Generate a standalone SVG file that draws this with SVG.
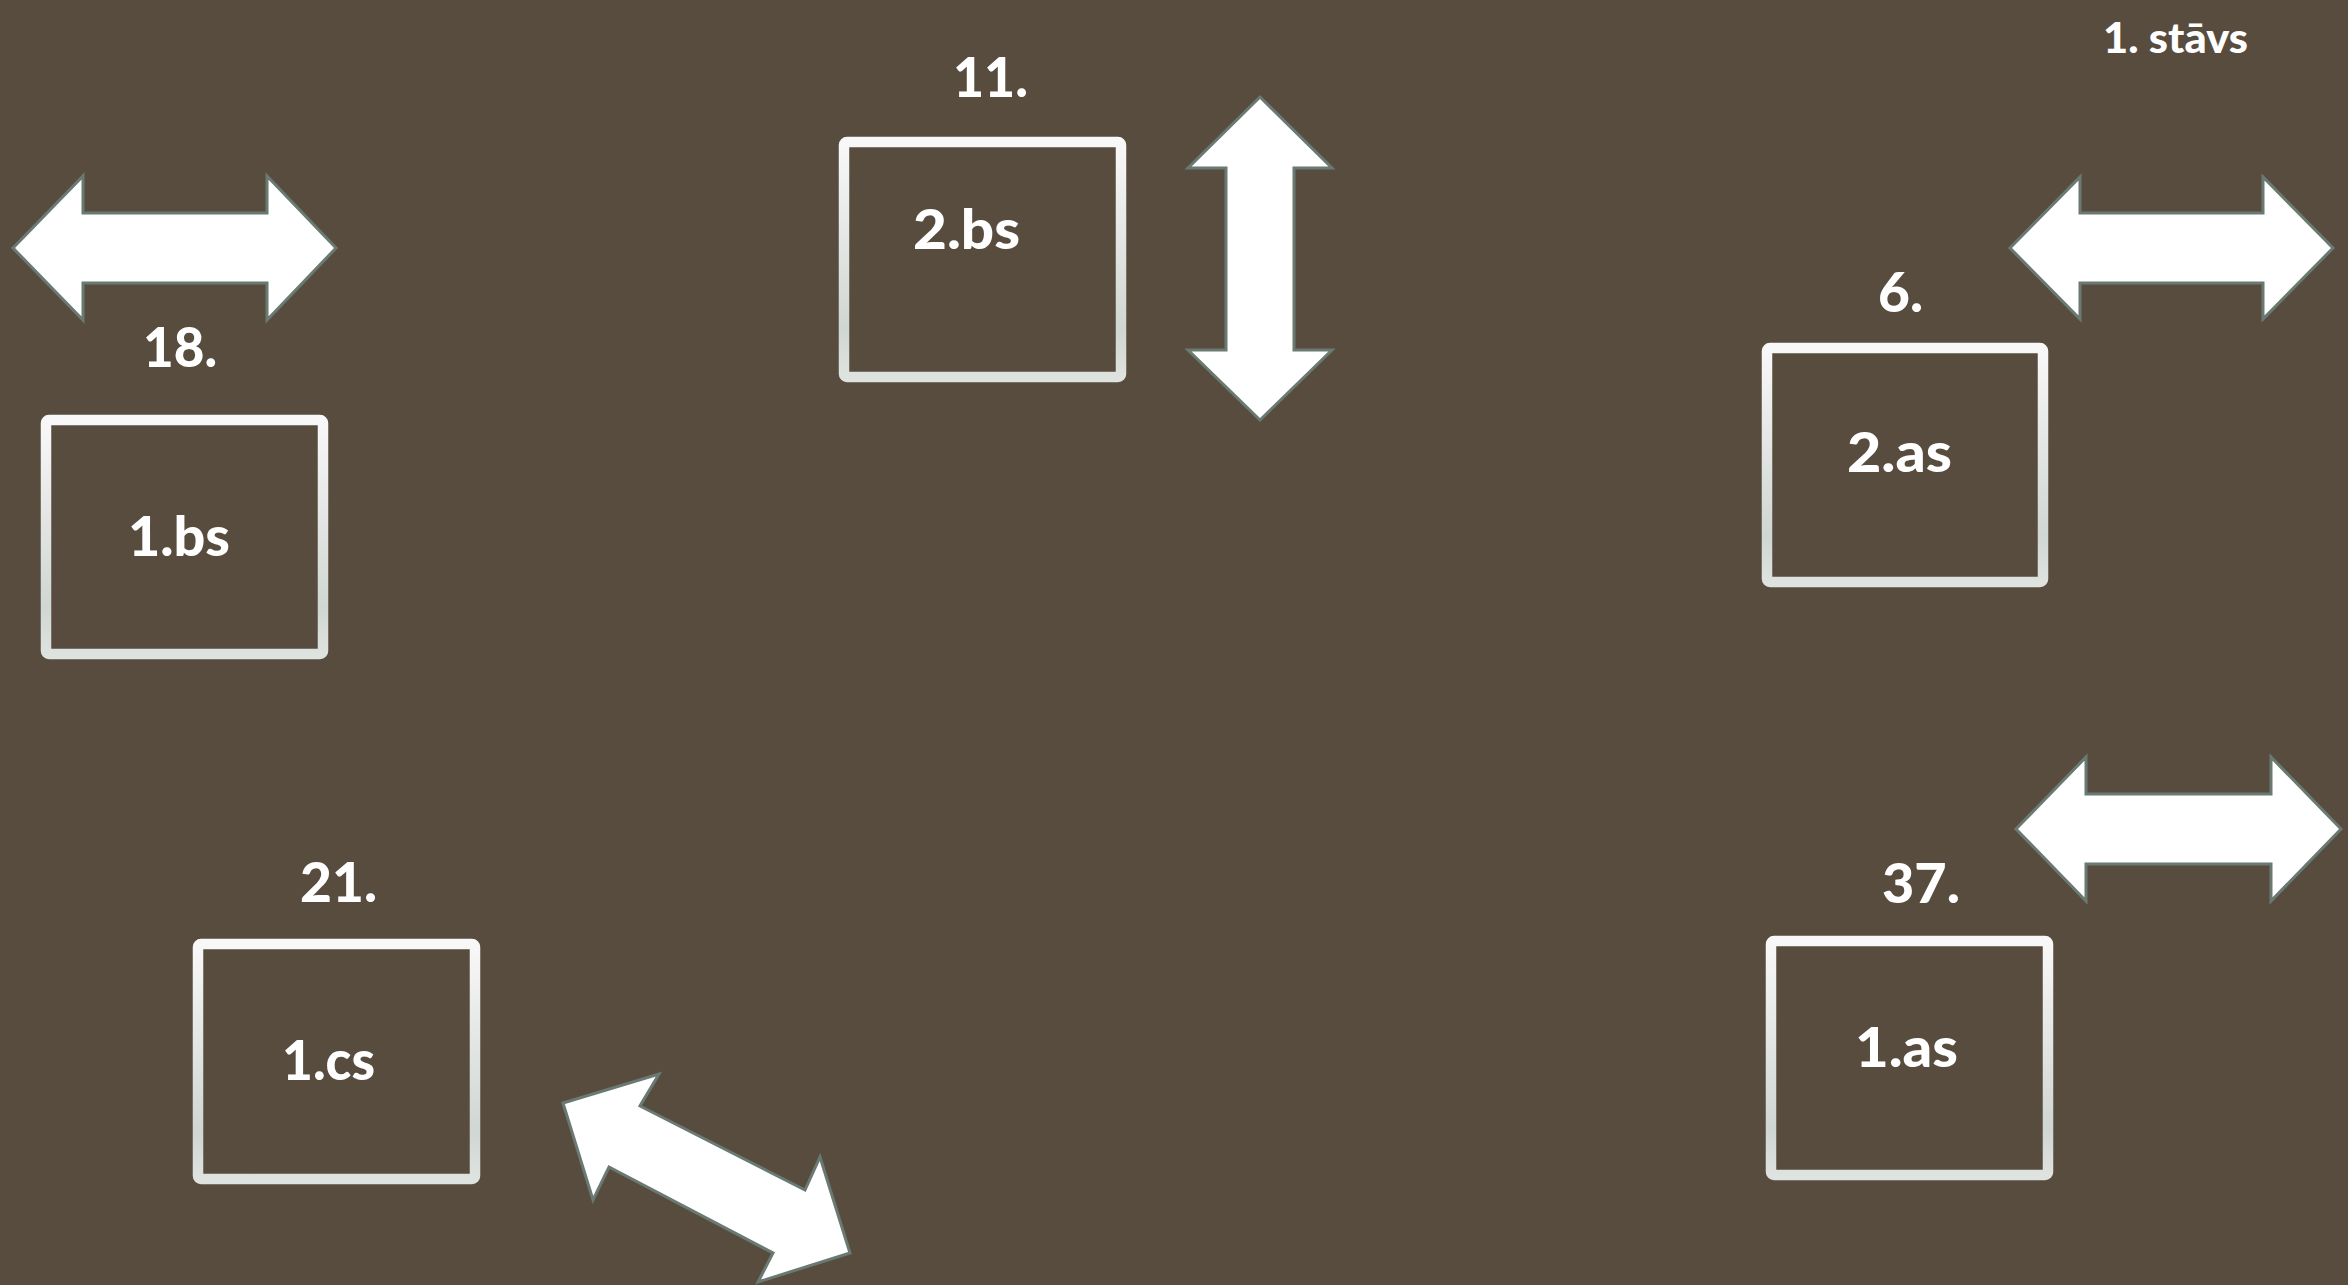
<svg xmlns="http://www.w3.org/2000/svg" width="2348" height="1285" viewBox="0 0 2348 1285">
  <defs>
    <linearGradient id="boxStroke" x1="0" y1="0" x2="0" y2="1">
      <stop offset="0" stop-color="#f8f8f8"/>
      <stop offset="0.8" stop-color="#d0d6d2"/>
      <stop offset="1" stop-color="#dfe3df"/>
    </linearGradient>
  </defs>
  <style>
    .room { fill: none; stroke: url(#boxStroke); stroke-width: 10.5; }
    .lbl { font-family: Lato, "Liberation Sans", sans-serif; font-weight: 900; font-size: 55px; fill: #ffffff; }
    .title { font-family: Lato, "Liberation Sans", sans-serif; font-weight: 900; font-size: 42px; fill: #ffffff; }
    .arrow { fill: #ffffff; stroke: #6a7a73; stroke-width: 3; stroke-linejoin: miter; }
  </style>
  <rect x="0" y="0" width="2348" height="1285" fill="#574c3e"/>

  <text class="title" x="2103" y="53" textLength="145" lengthAdjust="spacingAndGlyphs">1. stāvs</text>

  <g id="node-2bs">
    <rect class="room" x="844" y="142" width="277" height="235" rx="3"/>
    <text class="lbl" x="953" y="97" textLength="75" lengthAdjust="spacingAndGlyphs">11.</text>
    <text class="lbl" x="913" y="249" textLength="107" lengthAdjust="spacingAndGlyphs">2.bs</text>
  </g>
  <g id="node-1bs">
    <rect class="room" x="46" y="420" width="277" height="234" rx="3"/>
    <text class="lbl" x="143" y="367" textLength="74" lengthAdjust="spacingAndGlyphs">18.</text>
    <text class="lbl" x="128" y="556" textLength="102" lengthAdjust="spacingAndGlyphs">1.bs</text>
  </g>
  <g id="node-2as">
    <rect class="room" x="1767" y="348" width="276" height="234" rx="3"/>
    <text class="lbl" x="1878" y="312" textLength="45" lengthAdjust="spacingAndGlyphs">6.</text>
    <text class="lbl" x="1847" y="472" textLength="105" lengthAdjust="spacingAndGlyphs">2.as</text>
  </g>
  <g id="node-1as">
    <rect class="room" x="1771" y="941" width="277" height="234" rx="3"/>
    <text class="lbl" x="1882" y="903" textLength="78" lengthAdjust="spacingAndGlyphs">37.</text>
    <text class="lbl" x="1855" y="1067" textLength="103" lengthAdjust="spacingAndGlyphs">1.as</text>
  </g>
  <g id="node-1cs">
    <rect class="room" x="198" y="944" width="277" height="235" rx="3"/>
    <text class="lbl" x="300" y="902" textLength="77" lengthAdjust="spacingAndGlyphs">21.</text>
    <text class="lbl" x="282" y="1080" textLength="93" lengthAdjust="spacingAndGlyphs">1.cs</text>
  </g>

  <g id="connectors">
    <polygon class="arrow" points="13,248 83,176 83,213 267,213 267,176 336,248 267,320 267,283 83,283 83,320"/>
    <polygon class="arrow" points="1260,97 1332,168 1294,168 1294,350 1332,350 1260,420 1188,350 1226,350 1226,168 1188,168"/>
    <polygon class="arrow" points="2010,248 2080,177 2080,213 2263,213 2263,177 2333,248 2263,319 2263,283 2080,283 2080,319"/>
    <polygon class="arrow" points="2016,829 2086,757 2086,794 2271,794 2271,757 2341,829 2271,901 2271,864 2086,864 2086,901"/>
    <polygon class="arrow" points="563,1103 659,1074 640,1106 805,1190 820,1157 850,1253 758,1282 773,1253 609,1167 593,1200"/>
  </g>
</svg>
